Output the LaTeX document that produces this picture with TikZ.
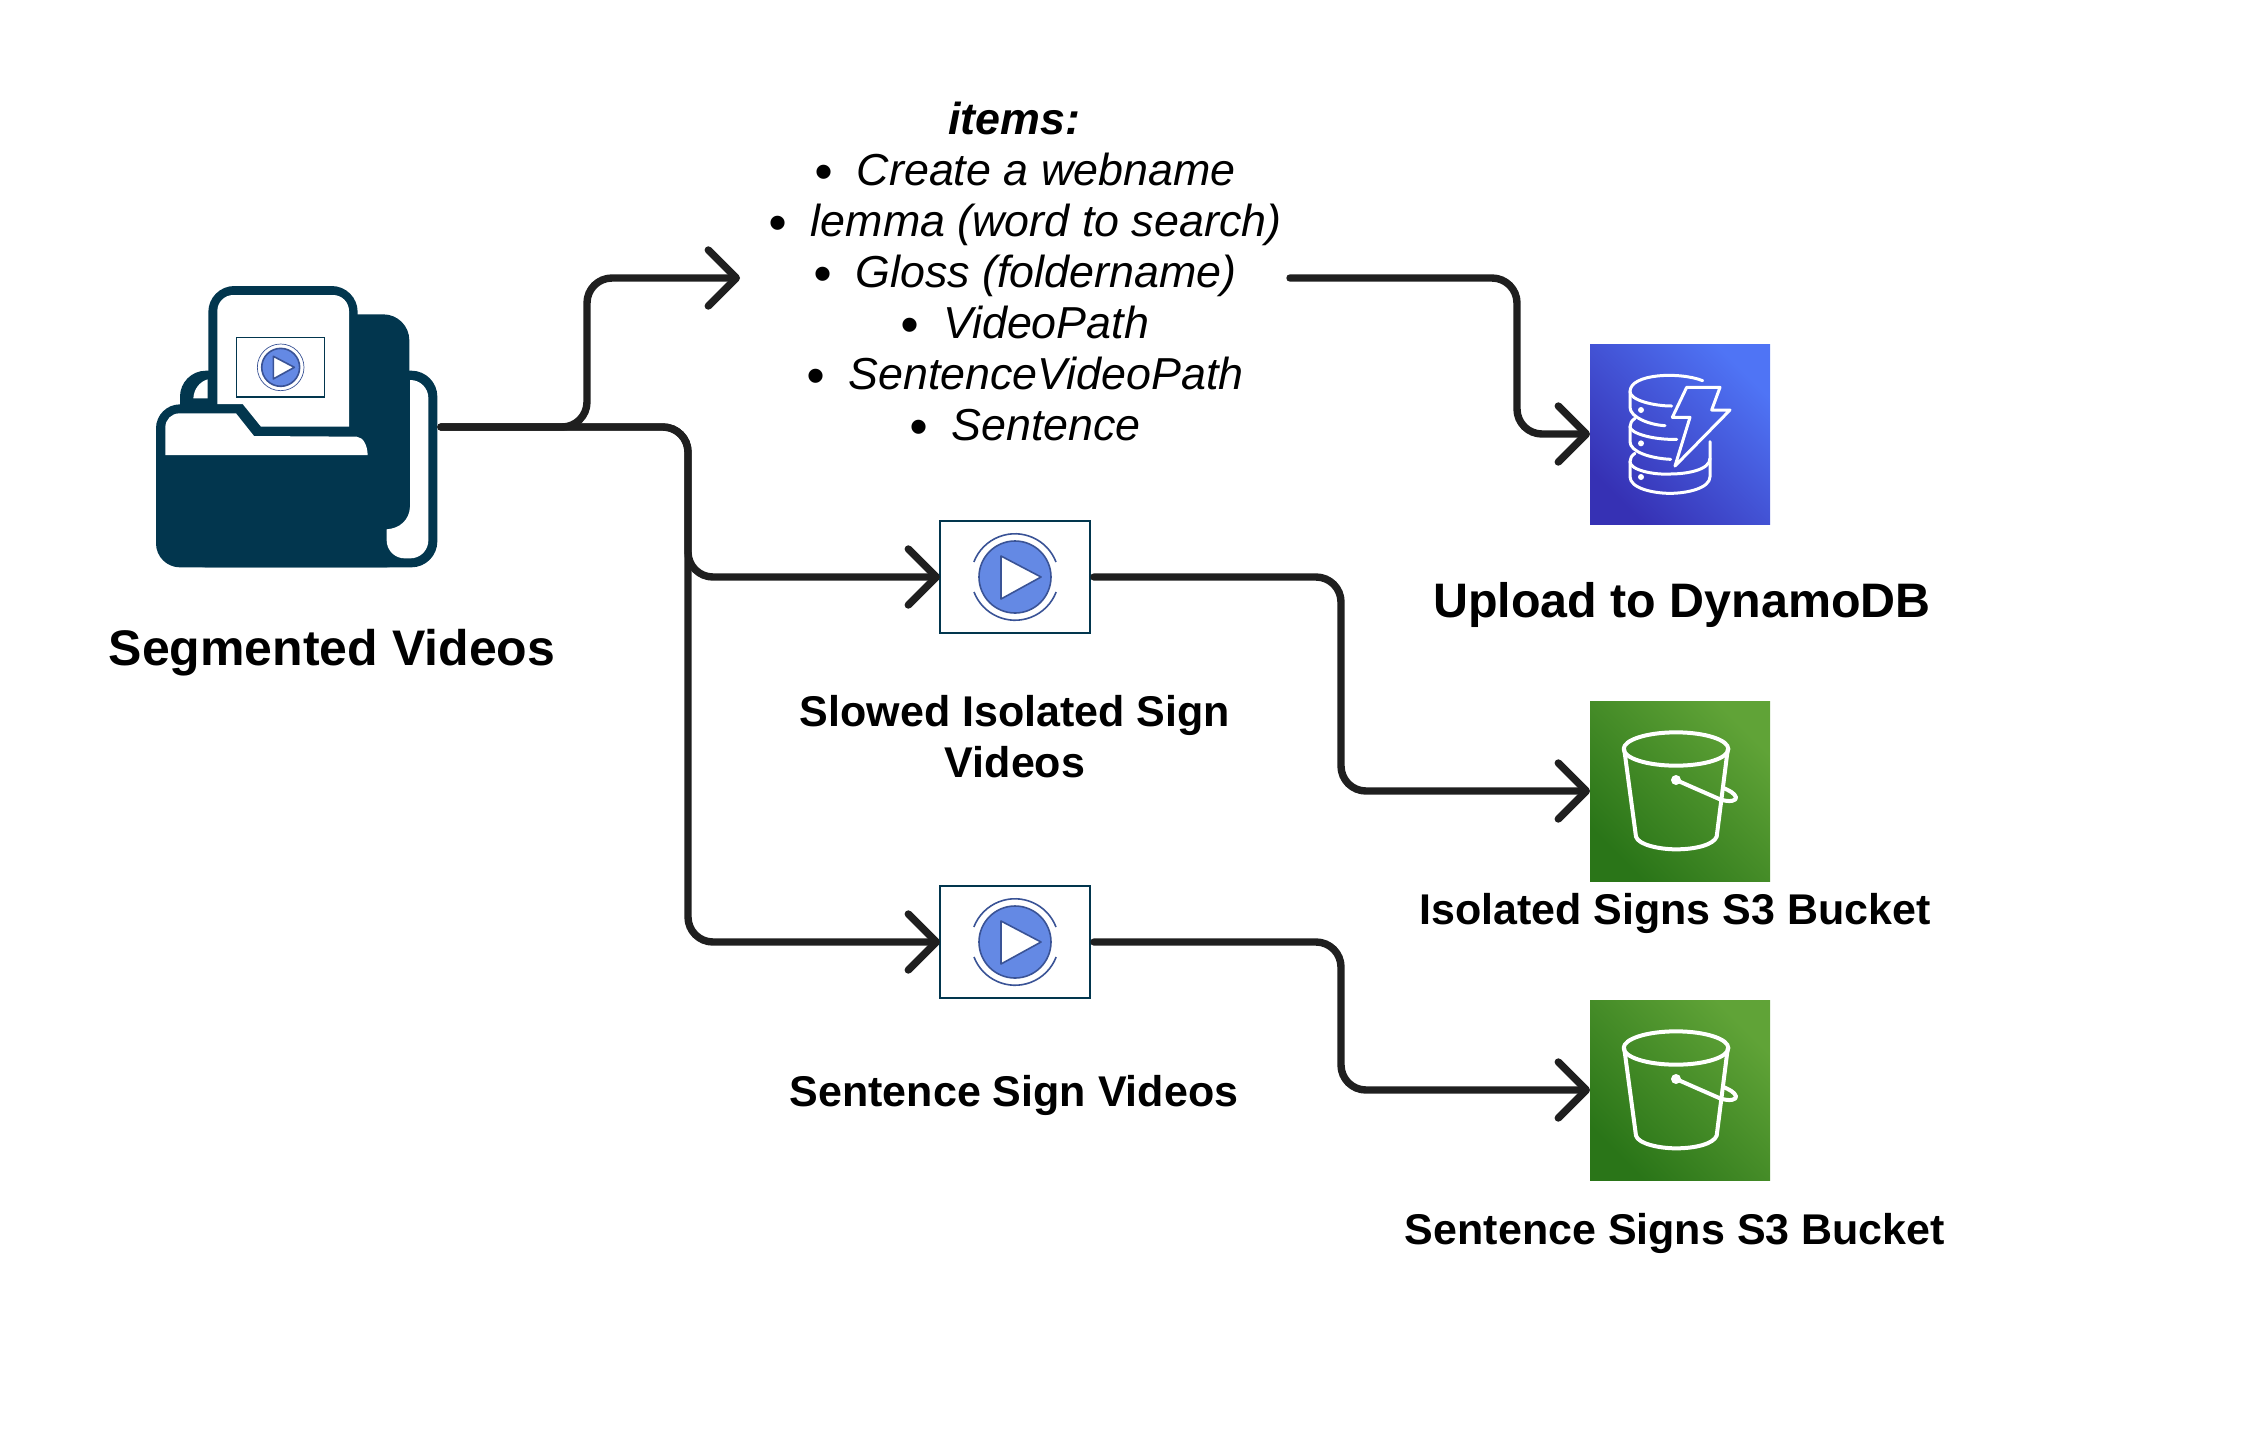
\documentclass[tikz,border=0pt]{standalone}
\usepackage{fontspec}
\setmainfont{Liberation Sans}
\usetikzlibrary{arrows.meta,positioning}
\definecolor{folderblue}{HTML}{02364E}
\definecolor{flowgrey}{HTML}{1F1F1F}
\definecolor{playfill}{HTML}{6489E4}
\definecolor{playline}{HTML}{3A5396}
\definecolor{dynamolow}{HTML}{3631B4}
\definecolor{dynamohigh}{HTML}{4F74F5}
\definecolor{bucketlow}{HTML}{2A7518}
\definecolor{buckethigh}{HTML}{60A337}
\newcommand{\itembullet}{\raisebox{-1.8pt}{\fontsize{26}{25.5}\selectfont\textbullet}\hspace{12pt}}
\tikzset{
  flow/.style={line width=3.7pt,draw=flowgrey,rounded corners=12.5pt,line cap=round,shorten <=2pt,-{Straight Barb[round,length=14pt,width=28pt]}},
  videobox/.style={draw=folderblue,line width=1pt,fill=white,minimum width=75pt,minimum height=56pt,outer sep=0pt,inner sep=0pt},
  awsbox/.style={minimum width=90pt,minimum height=90pt,outer sep=0pt,inner sep=0pt},
  dynamobox/.style={awsbox,bottom color=dynamolow,top color=dynamohigh,shading angle=-45},
  bucketbox/.style={awsbox,bottom color=bucketlow,top color=buckethigh,shading angle=-45},
  boldlabel/.style={font=\bfseries\fontsize{21.5}{25.5}\selectfont,align=center,text=black},
  playicon/.pic={
    \fill[playfill,draw=playline,line width=.8pt] (0,0) circle[radius=36];
    \fill[white,draw=playline,line width=.8pt,line join=round] (-14,-21) -- (26,0) -- (-14,22) -- cycle;
  },
  bucketicon/.pic={
    \begin{scope}[x=.16667pt,y=-.16667pt,shift={(-300,-303)},draw=white,line width=2pt,line cap=round,line join=round]
    \draw (288,177) ellipse[x radius=157,y radius=50];
    \draw (133,180) -- (168,440) .. controls (175,465) and (240,478) .. (288,478) .. controls (345,478) and (400,465) .. (410,440) -- (443,180);
    \draw (288,270) -- (420,328) .. controls (450,338) and (470,332) .. (468,322) .. controls (465,310) and (445,300) .. (432,295);
    \fill[white] (288,270) circle[radius=15];
    \end{scope}
  },
  dynamoicon/.pic={
    \begin{scope}[x=.16667pt,y=-.16667pt,shift={(-300,-312)},draw=white,line width=1.5pt,line cap=round,line join=round]
    \draw (368,152) .. controls (300,125) and (150,130) .. (150,185) .. controls (150,210) and (220,228) .. (275,228);
    \draw (150,185) -- (150,232) .. controls (150,262) and (210,285) .. (255,287);
    \draw (165,265) .. controls (155,272) and (150,280) .. (150,290) .. controls (150,310) and (220,330) .. (290,328);
    \draw (150,290) -- (150,335) .. controls (150,365) and (210,385) .. (272,388);
    \draw (165,370) .. controls (155,376) and (150,385) .. (150,395) .. controls (150,420) and (220,435) .. (270,432) .. controls (320,432) and (390,420) .. (390,385) -- (390,335);
    \draw (150,395) -- (150,440) .. controls (150,475) and (220,490) .. (270,490) .. controls (320,490) and (390,475) .. (390,440) -- (390,385);
    \draw (320,172) -- (420,172) -- (395,240) -- (450,240) -- (285,408) -- (330,262) -- (277,262) -- cycle;
    \foreach \doty in {240,340,441}
      \fill[white] (183,\doty) circle[radius=9];
    \end{scope}
  }
}
\begin{document}
\begin{tikzpicture}[x=.5pt,y=-.5pt]
\useasboundingbox (0,0) rectangle (2256,1447);

% folder icon
\node[minimum width=140.5pt,minimum height=140.5pt,outer sep=0pt,inner sep=0pt] (folder) at (296.5,427) {};
\begin{scope}[shift={(130,260)},x=.16667pt,y=-.16667pt]
\fill[folderblue,rounded corners=12pt] (78,433) rectangle (840,922);
\fill[folderblue,rounded corners=13pt] (150,332) rectangle (922,922);
\fill[folderblue,rounded corners=13pt] (235,78) rectangle (683,500);
\fill[folderblue,rounded corners=13pt] (600,163) rectangle (838,810);
\fill[white] (190,415) .. controls (192,385) and (210,365) .. (233,358) -- (233,415) -- cycle;
\fill[white,rounded corners=8pt] (262,432) -- (262,105) -- (657,105) [sharp corners] -- (657,500) -- (393,500) -- (338,432) -- cycle;
\fill[white,rounded corners=7pt] (106,585) -- (106,460) [sharp corners] -- (318,460) -- (372,528) -- (680,530) .. controls (700,532) and (712,555) .. (713,585) -- cycle;
\fill[white,rounded corners=9pt] (840,360) -- (895,360) -- (895,895) -- (770,895) [sharp corners] -- (770,808) .. controls (810,805) and (838,780) .. (840,740) -- cycle;
\draw[folderblue,line width=.8pt,fill=white] (320,233) rectangle (583,411);
\draw[playline,line width=.35pt] (452,322) circle[radius=70];
\pic[scale=1.58] at (452,322) {playicon};
\end{scope}

% main nodes
\node[boldlabel,font=\bfseries\fontsize{25}{30}\selectfont] (foldertext) at (332,653) {Segmented Videos};
\node[font=\itshape\fontsize{22.4}{25.5}\selectfont,align=center] (items) at (1025,273) {{\bfseries items:}\hspace*{11pt}\\
\itembullet Create a webname\\
\itembullet lemma (word to search)\\
\itembullet Gloss (foldername)\\
\itembullet VideoPath\\
\itembullet SentenceVideoPath\\
\itembullet Sentence};
\coordinate (itemsin) at (740,278);
\coordinate (itemsout) at (1286,278);

\node[videobox] (slowed) at (1015,577) {};
\pic at (slowed.center) {playicon};
\draw[playline,line width=.8pt] (slowed.center) ++(41,-15) arc[start angle=-21,end angle=-159,radius=44];
\draw[playline,line width=.8pt] (slowed.center) ++(-41,15) arc[start angle=159,end angle=21,radius=44];
\node[boldlabel,below=27.5pt of slowed.south] (slowedtext) {Slowed Isolated Sign\\Videos};
\node[videobox] (sentence) at (1015,942) {};
\pic at (sentence.center) {playicon};
\draw[playline,line width=.8pt] (sentence.center) ++(41,-15) arc[start angle=-21,end angle=-159,radius=44];
\draw[playline,line width=.8pt] (sentence.center) ++(-41,15) arc[start angle=159,end angle=21,radius=44];
\node[boldlabel] (sentencetext) at (1014,1095) {Sentence Sign Videos};

\node[dynamobox] (dynamo) at (1680,434) {};
\pic at (dynamo.center) {dynamoicon};
\node[boldlabel,font=\bfseries\fontsize{24.2}{28}\selectfont] (dynamotext) at (1682,605) {Upload to DynamoDB};
\node[bucketbox] (isolated) at (1680,791) {};
\pic at (isolated.center) {bucketicon};
\node[boldlabel] (isolatedtext) at (1675,913) {Isolated Signs S3 Bucket};
\node[bucketbox] (sentencebucket) at (1680,1090) {};
\pic at (sentencebucket.center) {bucketicon};
\node[boldlabel] (sentencebuckettext) at (1675,1233) {Sentence Signs S3 Bucket};

% connectors
\coordinate (upperbend) at (587,278);
\coordinate (slowedbend) at (688,577);
\coordinate (sentencebend) at (688,942);
\draw[flow] (folder.east) -| (upperbend) -- (itemsin);
\draw[flow] (folder.east) -| (slowedbend) -- (slowed.west);
\draw[flow] (folder.east) -| (sentencebend) -- (sentence.west);
\coordinate (dynamobend) at (1517,434);
\draw[flow] (itemsout) -| (dynamobend) -- (dynamo.west);
\coordinate (isolatedbend) at (1341,791);
\draw[flow] (slowed.east) -| (isolatedbend) -- (isolated.west);
\coordinate (sentencebucketbend) at (1341,1090);
\draw[flow] (sentence.east) -| (sentencebucketbend) -- (sentencebucket.west);
\end{tikzpicture}
\end{document}
